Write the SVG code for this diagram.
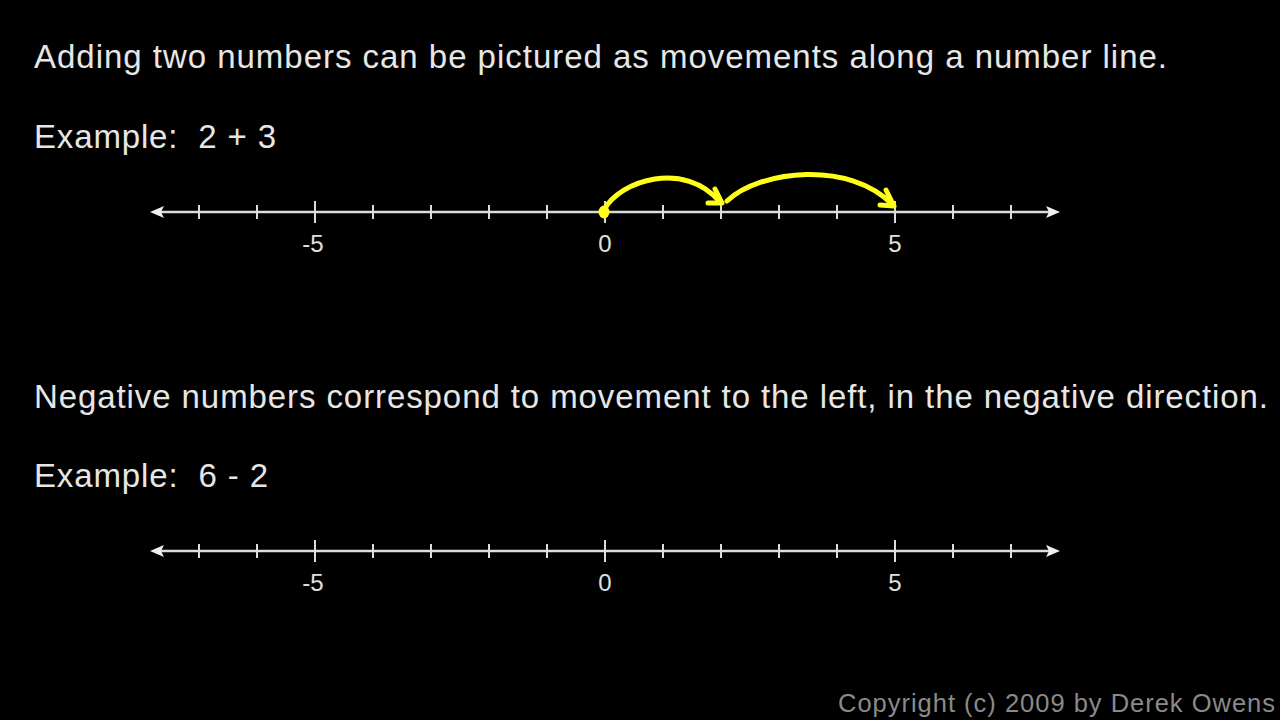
<svg xmlns="http://www.w3.org/2000/svg" width="1280" height="720" viewBox="0 0 1280 720">
<defs>
<style>
.t{font-family:"Liberation Sans",Arial,sans-serif;fill:#e6e6e6;font-size:33px}
.n{font-family:"Liberation Sans",Arial,sans-serif;fill:#e0e0e0;font-size:24px;text-anchor:middle}
.c{font-family:"Liberation Sans",Arial,sans-serif;fill:#8a8a8a;font-size:25.5px}
.axis{stroke:#dcdcdc;stroke-width:2.5;fill:none}
.tick{stroke:#dcdcdc;stroke-width:2}
.head{fill:#f0f0f0}
.y{stroke:#ffff1a;stroke-width:5;fill:none;stroke-linecap:round;stroke-linejoin:round}
</style>
<g id="ticks">
<line class="tick" x1="199" y1="-7" x2="199" y2="7"/>
<line class="tick" x1="257" y1="-7" x2="257" y2="7"/>
<line class="tick" x1="315" y1="-11" x2="315" y2="11"/>
<line class="tick" x1="373" y1="-7" x2="373" y2="7"/>
<line class="tick" x1="431" y1="-7" x2="431" y2="7"/>
<line class="tick" x1="489" y1="-7" x2="489" y2="7"/>
<line class="tick" x1="547" y1="-7" x2="547" y2="7"/>
<line class="tick" x1="605" y1="-11" x2="605" y2="11"/>
<line class="tick" x1="663" y1="-7" x2="663" y2="7"/>
<line class="tick" x1="721" y1="-7" x2="721" y2="7"/>
<line class="tick" x1="779" y1="-7" x2="779" y2="7"/>
<line class="tick" x1="837" y1="-7" x2="837" y2="7"/>
<line class="tick" x1="895" y1="-11" x2="895" y2="11"/>
<line class="tick" x1="953" y1="-7" x2="953" y2="7"/>
<line class="tick" x1="1011" y1="-7" x2="1011" y2="7"/>
<line class="axis" x1="158" y1="0" x2="1050" y2="0"/>
<path class="head" d="M150,0 L164,-6 L161,0 L164,6 Z"/>
<path class="head" d="M1060,0 L1046,-6 L1049,0 L1046,6 Z"/>
<text class="n" x="313" y="40">-5</text>
<text class="n" x="605" y="40">0</text>
<text class="n" x="895" y="40">5</text>
</g>
</defs>
<rect width="1280" height="720" fill="#000"/>
<g id="text1">
<text class="t" x="34" y="68" textLength="1133" lengthAdjust="spacing">Adding two numbers can be pictured as movements along a number line.</text>
<text class="t" x="34" y="148" textLength="242" lengthAdjust="spacing" xml:space="preserve">Example:  2 + 3</text>
</g>
<g id="numberline1">
<use href="#ticks" transform="translate(0,212)"/>
</g>
<g id="connectors">
<ellipse cx="604" cy="212" rx="5.5" ry="6.5" fill="#ffff1a"/>
<path class="y" d="M604,210 C620,180 685,160 720,202"/>
<path class="y" d="M715,189 L722,203 L708,203"/>
<path class="y" d="M727,201 C760,170 850,160 893,205"/>
<path class="y" d="M886,190 L894,206 L880,205"/>
</g>
<g id="text2">
<text class="t" x="34" y="408" textLength="1234" lengthAdjust="spacing">Negative numbers correspond to movement to the left, in the negative direction.</text>
<text class="t" x="34" y="487" textLength="234" lengthAdjust="spacing" xml:space="preserve">Example:  6 - 2</text>
</g>
<g id="numberline2">
<use href="#ticks" transform="translate(0,551)"/>
</g>
<text class="c" x="838" y="712" textLength="437" lengthAdjust="spacing">Copyright (c) 2009 by Derek Owens</text>
</svg>
